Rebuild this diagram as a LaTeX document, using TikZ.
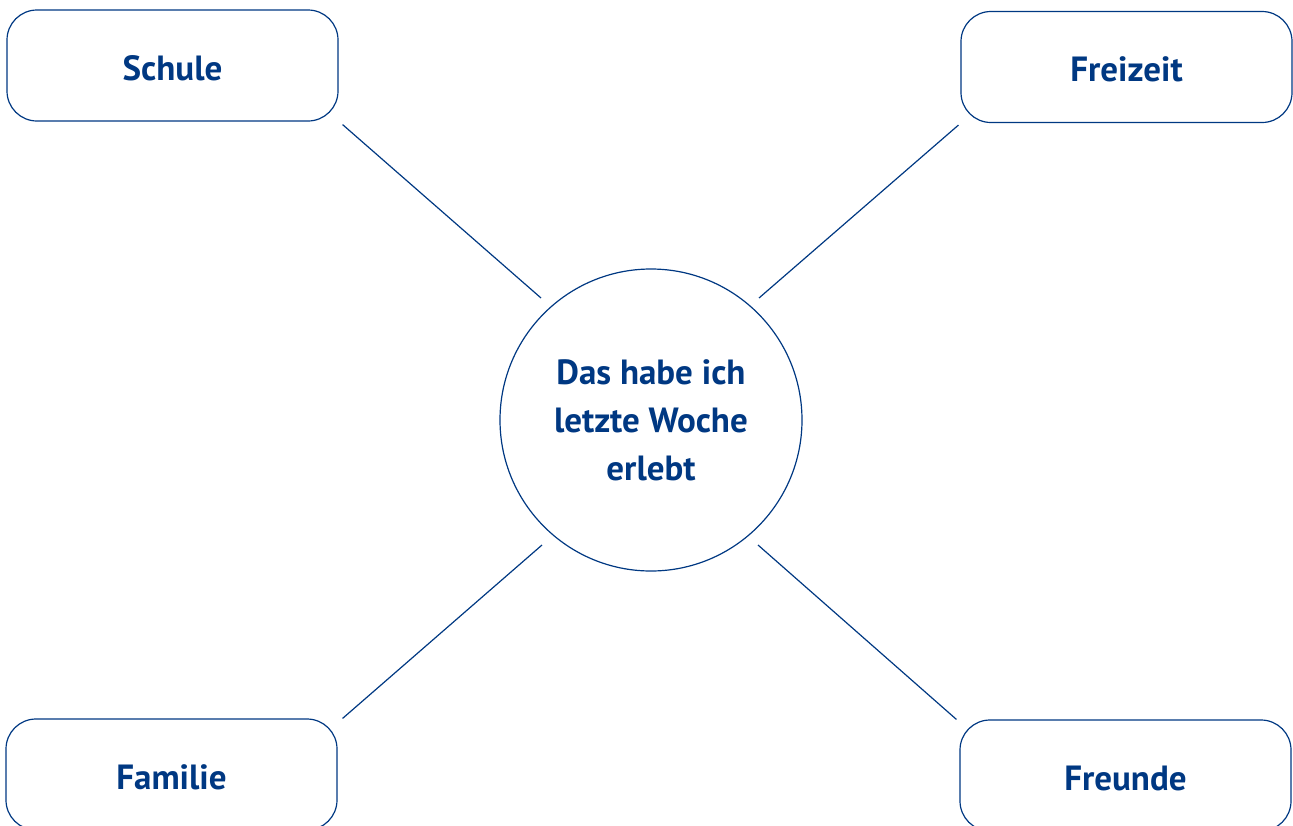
\documentclass[tikz,border=0pt]{standalone}
\usepackage{fontspec}
\setmainfont{PT Sans}
\usetikzlibrary{calc}
\definecolor{dblue}{RGB}{0,56,130}
\tikzset{
  topic/.style={draw=dblue, line width=1.2pt, rounded corners=30pt, minimum width=331pt, minimum height=111pt, inner sep=0pt, text height=29pt, text depth=0pt, text=dblue, font=\fontsize{35}{40}\selectfont\bfseries},
  centre/.style={draw=dblue, line width=1.2pt, circle, minimum size=302pt, inner sep=0pt, text=dblue, align=center, font=\fontsize{35}{48}\selectfont\bfseries},
  link/.style={draw=dblue, line width=1.2pt}
}
\begin{document}
\begin{tikzpicture}[x=1pt,y=-1pt]
\useasboundingbox (0,0) rectangle (1293,825);
\node[topic] (schule) at (172.5,65.5) {Schule};
\node[topic] (freizeit) at (1126.5,67) {Freizeit};
\node[topic] (familie) at (171.5,774.5) {Familie};
\node[topic] (freunde) at (1125.5,775.5) {Freunde};
\node[centre] (c) at (651,420) {Das habe ich\\letzte Woche\\erlebt};
\draw[link] ($(schule.south east)+(4,3)$) -- ($(c)+(-110,-122)$);
\draw[link] ($(freizeit.south west)+(-2,2)$) -- ($(c)+(108,-122)$);
\draw[link] ($(familie.north east)+(5,0)$) -- ($(c)+(-109,125)$);
\draw[link] ($(freunde.north west)+(-3,0)$) -- ($(c)+(107,125)$);
\end{tikzpicture}
\end{document}
